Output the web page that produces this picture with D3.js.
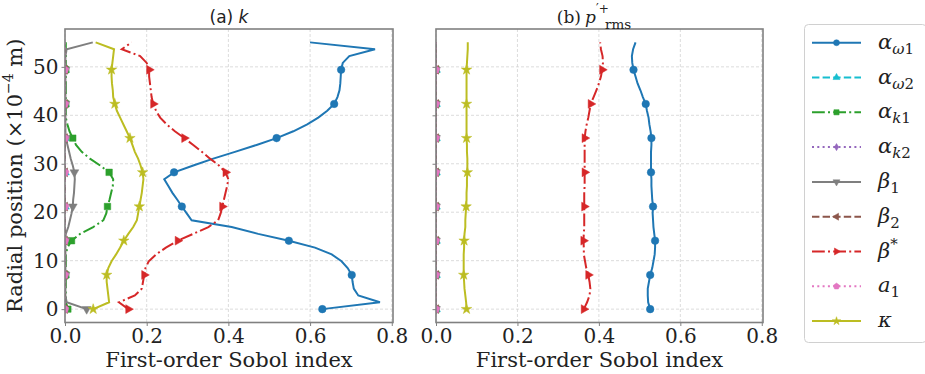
<!DOCTYPE html>
<html lang="en">
<head>
    <meta charset="UTF-8">
    <title>Sobol index profiles</title>
    <script src="https://cdn.jsdelivr.net/npm/d3@7"></script>
    <style>
        body { margin: 0; background: #fff; }
        text { font-family: "DejaVu Serif", serif; }
    </style>
</head>
<body>
<script type="application/javascript">

    let w = 925, h = 374;

    // radial positions (x10^-4 m) of the profile samples
    let yPos = [0, 1.41, 2.82, 4.23, 5.65, 7.06, 8.47, 9.88, 11.29, 12.70,
        14.12, 15.53, 16.94, 18.35, 19.76, 21.17, 22.58, 24.00, 25.41, 26.82,
        28.23, 29.64, 31.05, 32.46, 33.88, 35.29, 36.70, 38.11, 39.52, 40.93,
        42.35, 43.76, 45.17, 46.58, 47.99, 49.40, 50.81, 52.23, 53.64, 55.05];

    let xTicks = [0, 0.2, 0.4, 0.6, 0.8];
    let yTicks = [0, 10, 20, 30, 40, 50];

    let zeros = [0, 0, 0, 0, 0, 0, 0, 0, 0, 0, 0, 0, 0, 0, 0, 0, 0, 0, 0, 0,
        0, 0, 0, 0, 0, 0, 0, 0, 0, 0, 0, 0, 0, 0, 0, 0, 0, 0, 0, 0];

    // (a) k
    let aOmega1K = [0.630, 0.771, 0.718, 0.707, 0.704, 0.702, 0.692, 0.677, 0.653, 0.612,
        0.548, 0.473, 0.408, 0.310, 0.298, 0.286, 0.275, 0.263, 0.253, 0.243,
        0.267, 0.314, 0.363, 0.416, 0.469, 0.518, 0.559, 0.593, 0.620, 0.642,
        0.659, 0.667, 0.672, 0.674, 0.675, 0.676, 0.680, 0.696, 0.759, 0.600];
    let aK1K = [0.007, 0.002, 0.002, 0.002, 0.002, 0.002, 0.002, 0.002, 0.002, 0.006,
        0.016, 0.037, 0.069, 0.094, 0.101, 0.104, 0.109, 0.113, 0.117, 0.118,
        0.108, 0.086, 0.061, 0.041, 0.027, 0.019, 0.011, 0.006, 0.002, 0.002,
        0.002, 0.002, 0.002, 0.002, 0.002, 0.002, 0.002, 0.002, 0.002, 0.002];
    let beta1K = [0.053, 0.004, 0.001, 0.001, 0.001, 0.001, 0.001, 0.001, 0.001, 0.001,
        0.001, 0.002, 0.008, 0.012, 0.016, 0.019, 0.020, 0.022, 0.023, 0.024,
        0.023, 0.019, 0.014, 0.010, 0.006, 0.002, 0.001, 0.001, 0.001, 0.001,
        0.001, 0.001, 0.001, 0.001, 0.001, 0.001, 0.001, 0.001, 0.004, 0.068];
    let betaStarK = [0.155, 0.132, 0.171, 0.188, 0.191, 0.194, 0.197, 0.205, 0.223, 0.247,
        0.276, 0.314, 0.351, 0.375, 0.381, 0.385, 0.389, 0.393, 0.397, 0.400,
        0.393, 0.377, 0.355, 0.335, 0.314, 0.292, 0.269, 0.249, 0.233, 0.223,
        0.216, 0.212, 0.210, 0.208, 0.206, 0.206, 0.200, 0.184, 0.139, 0.163];
    let kappaK = [0.069, 0.108, 0.106, 0.104, 0.102, 0.102, 0.106, 0.114, 0.125, 0.135,
        0.144, 0.155, 0.167, 0.176, 0.179, 0.182, 0.185, 0.188, 0.190, 0.192,
        0.190, 0.185, 0.179, 0.171, 0.165, 0.159, 0.151, 0.143, 0.135, 0.127,
        0.122, 0.118, 0.117, 0.115, 0.114, 0.114, 0.116, 0.118, 0.120, 0.075];

    // (b) p'+ rms
    let aOmega1P = [0.526, 0.521, 0.520, 0.520, 0.523, 0.526, 0.531, 0.534, 0.537, 0.538,
        0.538, 0.536, 0.534, 0.533, 0.532, 0.533, 0.531, 0.530, 0.529, 0.529,
        0.528, 0.528, 0.528, 0.528, 0.529, 0.529, 0.527, 0.524, 0.522, 0.518,
        0.515, 0.508, 0.502, 0.495, 0.490, 0.485, 0.482, 0.481, 0.484, 0.490];
    let betaStarP = [0.363, 0.371, 0.377, 0.379, 0.377, 0.374, 0.369, 0.366, 0.363, 0.363,
        0.362, 0.363, 0.364, 0.364, 0.364, 0.364, 0.364, 0.364, 0.365, 0.365,
        0.365, 0.365, 0.365, 0.365, 0.365, 0.365, 0.367, 0.370, 0.374, 0.377,
        0.380, 0.387, 0.394, 0.400, 0.405, 0.408, 0.410, 0.409, 0.405, 0.403];
    let kappaP = [0.075, 0.074, 0.072, 0.070, 0.069, 0.068, 0.068, 0.068, 0.068, 0.069,
        0.069, 0.070, 0.072, 0.072, 0.073, 0.074, 0.075, 0.075, 0.076, 0.076,
        0.077, 0.077, 0.077, 0.076, 0.076, 0.075, 0.075, 0.075, 0.075, 0.075,
        0.075, 0.075, 0.075, 0.075, 0.075, 0.075, 0.076, 0.077, 0.078, 0.078];

    // series: label parts, colour, dash, marker
    let series = [
        { key: "aw1", sym: "α", sub: "ω", num: "1", color: "#1f77b4", dash: null, marker: "circle" },
        { key: "aw2", sym: "α", sub: "ω", num: "2", color: "#17becf", dash: "7.4,3.2", marker: "up" },
        { key: "ak1", sym: "α", sub: "k", num: "1", color: "#2ca02c", dash: "12.8,3.2,2,3.2", marker: "square" },
        { key: "ak2", sym: "α", sub: "k", num: "2", color: "#9467bd", dash: "2,3.3", marker: "thin" },
        { key: "b1", sym: "β", sub: "", num: "1", color: "#7f7f7f", dash: null, marker: "down" },
        { key: "b2", sym: "β", sub: "", num: "2", color: "#8c564b", dash: "7.4,3.2", marker: "left" },
        { key: "bs", sym: "β", sup: "*", color: "#d62728", dash: "12.8,3.2,2,3.2", marker: "right" },
        { key: "a1", sym: "a", sub: "", num: "1", color: "#e377c2", dash: "2,3.3", marker: "pentagon" },
        { key: "kap", sym: "κ", color: "#bcbd22", dash: null, marker: "star" }
    ];

    let panels = [
        { left: 65, right: 393, data: { aw1: aOmega1K, aw2: zeros, ak1: aK1K, ak2: zeros, b1: beta1K,
                b2: zeros, bs: betaStarK, a1: zeros, kap: kappaK }, showY: true },
        { left: 436, right: 763, data: { aw1: aOmega1P, aw2: zeros, ak1: zeros, ak2: zeros, b1: zeros,
                b2: zeros, bs: betaStarP, a1: zeros, kap: kappaP }, showY: false }
    ];

    let plotTop = 29, plotBottom = 322.5;

    let svg = d3.select("body")
        .append("svg")
        .attr("width", w)
        .attr("height", h);

    let yScale = d3.scaleLinear()
        .domain([-2.76, 57.81])
        .range([plotBottom, plotTop]);

    function markerPath(type, size) {
        let s = size;
        if (type === "circle") return d3.symbol(d3.symbolCircle, s * s * 0.8)();
        if (type === "square") return d3.symbol(d3.symbolSquare, s * s * 0.75)();
        if (type === "star") return d3.symbol(d3.symbolStar, s * s * 0.6)();
        if (type === "pentagon") {
            let r = s * 0.55, pts = [];
            for (let k = 0; k < 5; k++) {
                let a = -Math.PI / 2 + k * 2 * Math.PI / 5;
                pts.push([r * Math.cos(a), r * Math.sin(a)]);
            }
            return "M" + pts.join("L") + "Z";
        }
        if (type === "thin") {
            let r = s * 0.6;
            return "M0," + (-r) + "L" + (r * 0.6) + ",0L0," + r + "L" + (-r * 0.6) + ",0Z";
        }
        return d3.symbol(d3.symbolTriangle, s * s * 0.6)();
    }
    function markerRot(type) {
        return { down: 180, left: -90, right: 90 }[type] || 0;
    }

    panels.forEach(function(p, pi) {
        let xScale = d3.scaleLinear()
            .domain([0, 0.803])
            .range([p.left, p.right]);

        let g = svg.append("g");

        // grid
        g.selectAll(".gx").data(xTicks).enter().append("line")
            .attr("x1", d => xScale(d)).attr("x2", d => xScale(d))
            .attr("y1", plotTop).attr("y2", plotBottom)
            .attr("stroke", "#d3d3d3").attr("stroke-width", 0.8).attr("stroke-dasharray", "3,2");
        g.selectAll(".gy").data(yTicks).enter().append("line")
            .attr("x1", p.left).attr("x2", p.right)
            .attr("y1", d => yScale(d)).attr("y2", d => yScale(d))
            .attr("stroke", "#d3d3d3").attr("stroke-width", 0.8).attr("stroke-dasharray", "3,2");

        let clipId = "clip" + pi;
        svg.append("clipPath").attr("id", clipId).append("rect")
            .attr("x", p.left).attr("y", plotTop)
            .attr("width", p.right - p.left).attr("height", plotBottom - plotTop);

        let plot = g.append("g").attr("clip-path", "url(#" + clipId + ")");

        series.forEach(function(s) {
            let vals = p.data[s.key];
            let pts = vals.map((v, i) => [v, yPos[i]]);
            let line = d3.line().x(d => xScale(d[0])).y(d => yScale(d[1]));
            plot.append("path")
                .attr("d", line(pts))
                .attr("fill", "none")
                .attr("stroke", s.color)
                .attr("stroke-width", 2)
                .attr("stroke-dasharray", s.dash);
            plot.selectAll(null)
                .data(pts.filter((d, i) => i % 5 === 0))
                .enter().append("path")
                .attr("d", markerPath(s.marker, 7.5))
                .attr("transform", d => "translate(" + xScale(d[0]) + "," + yScale(d[1]) + ") rotate(" + markerRot(s.marker) + ")")
                .attr("fill", s.color)
                .attr("stroke", s.color)
                .attr("stroke-width", 0.5);
        });

        // axes
        let xAxis = d3.axisBottom(xScale).tickValues(xTicks).tickFormat(d3.format(".1f")).tickSize(3.5).tickPadding(3);
        let ax = svg.append("g").attr("transform", "translate(0," + plotBottom + ")").call(xAxis);
        ax.select(".domain").remove();
        ax.selectAll("line").attr("stroke", "#808080");
        ax.selectAll("text").attr("font-family", "DejaVu Serif").attr("font-size", 20).attr("fill", "#222");

        let yAxis = d3.axisLeft(yScale).tickValues(yTicks).tickSize(3.5).tickPadding(3);
        if (!p.showY) yAxis.tickFormat("");
        let ay = svg.append("g").attr("transform", "translate(" + p.left + ",0)").call(yAxis);
        ay.select(".domain").remove();
        ay.selectAll("line").attr("stroke", "#808080");
        ay.selectAll("text").attr("font-family", "DejaVu Serif").attr("font-size", 20).attr("fill", "#222");

        // frame
        svg.append("rect")
            .attr("x", p.left).attr("y", plotTop)
            .attr("width", p.right - p.left).attr("height", plotBottom - plotTop)
            .attr("fill", "none").attr("stroke", "#808080").attr("stroke-width", 1.6);

        svg.append("text")
            .attr("x", (p.left + p.right) / 2).attr("y", 367)
            .attr("text-anchor", "middle")
            .attr("font-size", 21).attr("fill", "#222")
            .text("First-order Sobol index");
    });

    // titles
    let t1 = svg.append("text").attr("x", 229).attr("y", 23).attr("text-anchor", "middle")
        .attr("font-size", 17).attr("fill", "#222");
    t1.append("tspan").attr("font-family", "DejaVu Sans").text("(a) ");
    t1.append("tspan").attr("font-family", "DejaVu Sans").attr("font-style", "italic").text("k");

    let t2 = svg.append("g");
    t2.append("text").attr("x", 581).attr("y", 23).attr("text-anchor", "end")
        .attr("font-size", 17).attr("fill", "#222").text("(b)");
    t2.append("text").attr("x", 585).attr("y", 23)
        .attr("font-family", "DejaVu Sans").attr("font-style", "italic")
        .attr("font-size", 17).attr("fill", "#222").text("p");
    t2.append("text").attr("x", 596).attr("y", 13)
        .attr("font-family", "DejaVu Sans").attr("font-size", 12).attr("fill", "#222").text("′+");
    t2.append("text").attr("x", 605).attr("y", 28.5)
        .attr("font-family", "DejaVu Sans").attr("font-size", 13.5).attr("fill", "#222").text("rms");

    // y label
    let yl = svg.append("text")
        .attr("transform", "translate(22," + ((plotTop + plotBottom) / 2) + ") rotate(-90)")
        .attr("text-anchor", "middle")
        .attr("font-size", 21).attr("fill", "#222");
    yl.append("tspan").text("Radial position (×10");
    yl.append("tspan").attr("font-size", 14).attr("dy", -9).text("−4");
    yl.append("tspan").attr("dy", 9).text(" m)");

    // legend
    let lg = svg.append("g");
    lg.append("rect")
        .attr("x", 804.5).attr("y", 24.5).attr("width", 122).attr("height", 318)
        .attr("rx", 4).attr("fill", "#fff").attr("stroke", "#d0d0d0").attr("stroke-width", 1);

    series.forEach(function(s, i) {
        let cy = 42.7 + i * 34.8;
        lg.append("line")
            .attr("x1", 812).attr("x2", 861).attr("y1", cy).attr("y2", cy)
            .attr("stroke", s.color).attr("stroke-width", 2)
            .attr("stroke-dasharray", s.dash);
        lg.append("path")
            .attr("d", markerPath(s.marker, 6))
            .attr("transform", "translate(836.5," + cy + ") rotate(" + markerRot(s.marker) + ")")
            .attr("fill", s.color).attr("stroke", s.color).attr("stroke-width", 0.5);

        let t = lg.append("text").attr("x", 878).attr("y", cy + 6)
            .attr("font-family", "DejaVu Sans").attr("font-size", 21).attr("fill", "#222");
        t.append("tspan").attr("font-style", "italic").text(s.sym);
        if (s.sup) {
            t.append("tspan").attr("font-size", 15).attr("dy", -9).text(s.sup);
        } else if (s.num) {
            let sub = t.append("tspan").attr("font-size", 15).attr("dy", 5);
            if (s.sub) sub.append("tspan").attr("font-style", "italic").text(s.sub);
            sub.append("tspan").text(s.num);
        }
    });

</script>
</body>
</html>
